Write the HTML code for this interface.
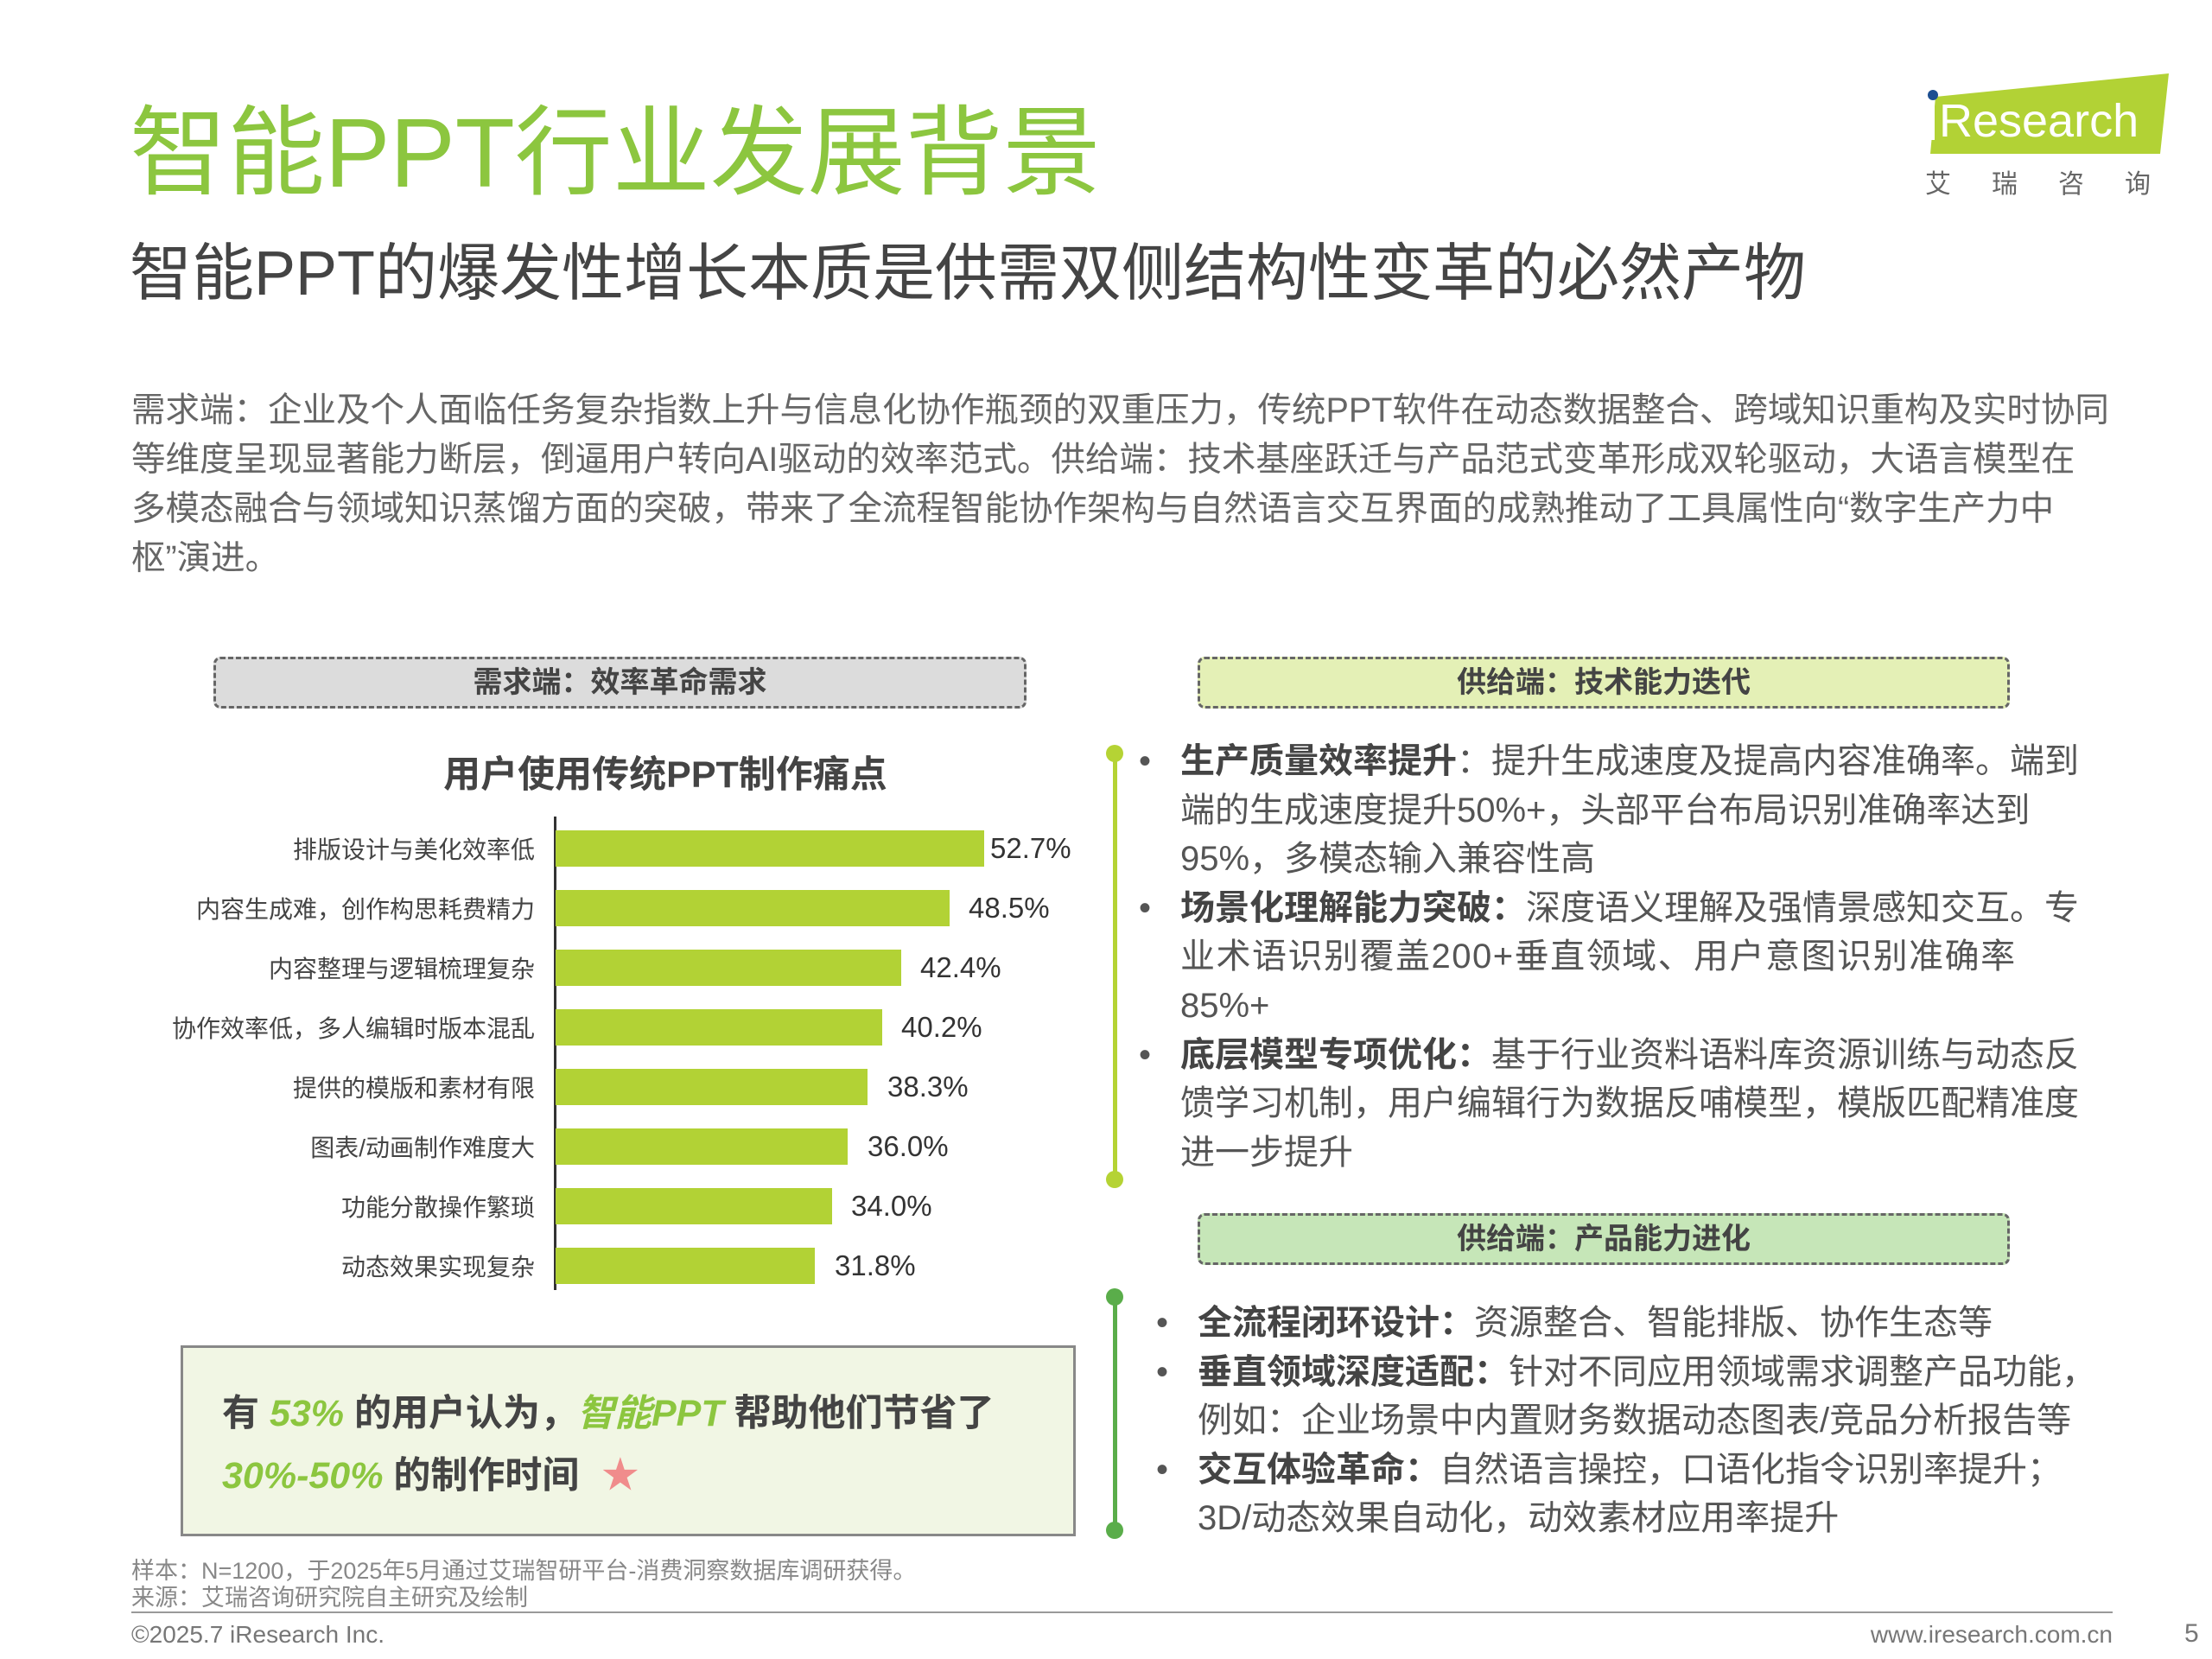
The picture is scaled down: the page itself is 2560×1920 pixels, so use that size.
<!DOCTYPE html>
<html><head><meta charset="utf-8"><style>
*{margin:0;padding:0;box-sizing:border-box}
body{width:2560px;height:1920px;background:#fff;position:relative;overflow:hidden;font-family:"Liberation Sans","Noto Sans CJK SC",sans-serif}
.a{position:absolute;white-space:nowrap}
.box{position:absolute;border:3px dashed #666;border-radius:8px;text-align:center;font-weight:bold;color:#444;font-size:34px}
.lbl{position:absolute;right:1941px;font-size:28px;color:#444;transform:translateY(-50%)}
.bar{position:absolute;left:643px;height:42px;background:#b2d235;transform:translateY(-50%)}
.val{position:absolute;font-size:33px;color:#333;transform:translateY(-50%)}
.rt{position:absolute;font-size:40px;color:#555;line-height:56.6px;white-space:nowrap}
.rt b{color:#444}
.dot{position:absolute;width:20px;height:20px;border-radius:50%}
</style></head><body>
<div class="a" style="left:150px;top:112px;font-size:113px;color:#8cc63f;line-height:130px">智能PPT行业发展背景</div>
<div class="a" style="left:150px;top:272px;font-size:72px;color:#444;line-height:90px">智能PPT的爆发性增长本质是供需双侧结构性变革的必然产物</div>
<!-- logo -->
<svg class="a" style="left:2220px;top:80px" width="300" height="110"><polygon points="20,32 290,5 280,98 14,98" fill="#b2d235"/><circle cx="17" cy="30" r="6" fill="#1d4f91"/><text x="24" y="78" font-size="54" fill="#fff" font-family="Liberation Sans, sans-serif">Research</text><rect x="12" y="42" width="7" height="40" fill="#fff"/></svg>
<div class="a" style="left:2228px;top:188px;font-size:30px;color:#666;letter-spacing:47px">艾瑞咨询</div>
<div class="a" style="left:152px;top:447px;font-size:39.5px;color:#666;line-height:57px">需求端：企业及个人面临任务复杂指数上升与信息化协作瓶颈的双重压力，传统PPT软件在动态数据整合、跨域知识重构及实时协同<br>等维度呈现显著能力断层，倒逼用户转向AI驱动的效率范式。供给端：技术基座跃迁与产品范式变革形成双轮驱动，大语言模型在<br>多模态融合与领域知识蒸馏方面的突破，带来了全流程智能协作架构与自然语言交互界面的成熟推动了工具属性向“数字生产力中<br>枢”演进。</div>
<div class="box" style="left:247px;top:760px;width:941px;height:60px;background:#dcdcdc;line-height:54px">需求端：效率革命需求</div>
<div class="box" style="left:1386px;top:760px;width:940px;height:60px;background:#e4f0b6;line-height:54px">供给端：技术能力迭代</div>
<div class="box" style="left:1386px;top:1404px;width:940px;height:60px;background:#c6e6b8;line-height:54px">供给端：产品能力进化</div>
<div class="a" style="left:770px;top:862px;width:0;font-size:43px;font-weight:bold;color:#444"><span style="position:absolute;transform:translateX(-50%)">用户使用传统PPT制作痛点</span></div>
<div class="a" style="left:641px;top:945px;width:3px;height:548px;background:#333"></div>
<div class="lbl" style="top:982px">排版设计与美化效率低</div><div class="bar" style="top:982px;width:496px"></div><div class="val" style="top:982px;left:1146px">52.7%</div>
<div class="lbl" style="top:1051px">内容生成难，创作构思耗费精力</div><div class="bar" style="top:1051px;width:456px"></div><div class="val" style="top:1051px;left:1121px">48.5%</div>
<div class="lbl" style="top:1120px">内容整理与逻辑梳理复杂</div><div class="bar" style="top:1120px;width:400px"></div><div class="val" style="top:1120px;left:1065px">42.4%</div>
<div class="lbl" style="top:1189px">协作效率低，多人编辑时版本混乱</div><div class="bar" style="top:1189px;width:378px"></div><div class="val" style="top:1189px;left:1043px">40.2%</div>
<div class="lbl" style="top:1258px">提供的模版和素材有限</div><div class="bar" style="top:1258px;width:361px"></div><div class="val" style="top:1258px;left:1027px">38.3%</div>
<div class="lbl" style="top:1327px">图表/动画制作难度大</div><div class="bar" style="top:1327px;width:338px"></div><div class="val" style="top:1327px;left:1004px">36.0%</div>
<div class="lbl" style="top:1396px">功能分散操作繁琐</div><div class="bar" style="top:1396px;width:320px"></div><div class="val" style="top:1396px;left:985px">34.0%</div>
<div class="lbl" style="top:1465px">动态效果实现复杂</div><div class="bar" style="top:1465px;width:300px"></div><div class="val" style="top:1465px;left:966px">31.8%</div>
<div class="a" style="left:209px;top:1557px;width:1036px;height:221px;background:#f1f6e4;border:3px solid #888"></div>
<div class="a" style="left:257px;top:1600px;font-size:43px;font-weight:bold;color:#444;line-height:72px">有<i style="color:#8cc63f"> 53% </i>的用户认为，<i style="color:#8cc63f">智能PPT</i> 帮助他们节省了<br><i style="color:#8cc63f">30%-50%</i> 的制作时间 <span style="color:#f08c8c;margin-left:14px">★</span></div>
<div class="a" style="left:1288px;top:872px;width:5px;height:492px;background:#b5d334"></div>
<div class="dot" style="left:1280px;top:862px;background:#b5d334"></div><div class="dot" style="left:1280px;top:1355px;background:#b5d334"></div>
<div class="a" style="left:1288px;top:1500px;width:5px;height:270px;background:#5aad4a"></div>
<div class="dot" style="left:1280px;top:1491px;background:#5aad4a"></div><div class="dot" style="left:1280px;top:1761px;background:#5aad4a"></div>
<div class="rt" style="left:1318px;top:853px">•<br><br><br>•<br><br><br>•</div>
<div class="rt" style="left:1366px;top:853px"><b>生产质量效率提升</b>：提升生成速度及提高内容准确率。端到<br>端的生成速度提升50%+，头部平台布局识别准确率达到<br>95%，多模态输入兼容性高<br><b>场景化理解能力突破：</b>深度语义理解及强情景感知交互。专<br><span style="letter-spacing:1.5px">业术语识别覆盖200+垂直领域、用户意图识别准确率</span><br>85%+<br><b>底层模型专项优化：</b>基于行业资料语料库资源训练与动态反<br>馈学习机制，用户编辑行为数据反哺模型，模版匹配精准度<br>进一步提升</div>
<div class="rt" style="left:1338px;top:1503px">•<br>•<br><br>•</div>
<div class="rt" style="left:1386px;top:1503px"><b>全流程闭环设计：</b>资源整合、智能排版、协作生态等<br><b>垂直领域深度适配：</b>针对不同应用领域需求调整产品功能，<br>例如：企业场景中内置财务数据动态图表/竞品分析报告等<br><b>交互体验革命：</b>自然语言操控，口语化指令识别率提升；<br>3D/动态效果自动化，动效素材应用率提升</div>
<div class="a" style="left:152px;top:1803px;font-size:27px;color:#888;line-height:31px">样本：N=1200，于2025年5月通过艾瑞智研平台-消费洞察数据库调研获得。<br>来源：艾瑞咨询研究院自主研究及绘制</div>
<div class="a" style="left:152px;top:1865px;width:2293px;height:2px;background:#999"></div>
<div class="a" style="left:152px;top:1876px;font-size:28px;color:#777">©2025.7 iResearch Inc.</div>
<div class="a" style="right:115px;top:1876px;font-size:28px;color:#777">www.iresearch.com.cn</div>
<div class="a" style="left:2528px;top:1874px;font-size:30px;color:#777">5</div>
</body></html>
